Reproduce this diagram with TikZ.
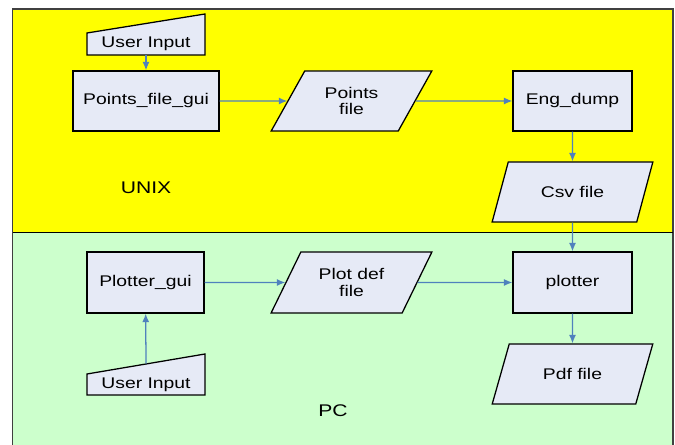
\documentclass[tikz,border=0pt]{standalone}
\usepackage{fontspec}
\setmainfont{Liberation Sans}[FakeStretch=1.25]
\usetikzlibrary{shapes.geometric,arrows.meta}

\definecolor{unixyellow}{RGB}{255,255,0}
\definecolor{pcgreen}{RGB}{204,255,204}
\definecolor{boxfill}{RGB}{230,234,246}
\definecolor{flowblue}{RGB}{79,129,189}

\begin{document}
\begin{tikzpicture}[
    font=\fontsize{11}{11.5}\selectfont,
    proc/.style={draw, line width=0.9pt, fill=boxfill, minimum height=1.5cm, inner sep=0pt},
    data/.style={trapezium, trapezium left angle=55, trapezium right angle=125,
        trapezium stretches=true, draw, line width=0.9pt, fill=boxfill,
        minimum width=4.025cm, minimum height=1.5cm, inner sep=0pt, align=center},
    manual/.style={inner sep=0pt, minimum width=2.95cm},
    flow/.style={-{Latex[length=6pt,width=5pt]}, draw=flowblue, line width=0.9pt}
]

    % Fix the page size
    \useasboundingbox (0,0) rectangle (16.875,-11.125);

    % Draw the two pools
    \fill[unixyellow] (0.3125,-0.225) rectangle (16.825,-5.8125);
    \fill[pcgreen] (0.3125,-5.8125) rectangle (16.825,-11.125);
    \draw[line width=0.9pt, black!75] (0.3125,-11.125) -- (0.3125,-0.225) -- (16.825,-0.225) -- (16.825,-11.125);
    \draw[line width=0.9pt] (0.3125,-5.8125) -- (16.825,-5.8125);

    % Pool labels
    \node[font=\fontsize{12}{14}\selectfont] (unix) at (3.65,-4.7) {UNIX};
    \node[font=\fontsize{12}{14}\selectfont] (pc) at (8.325,-10.275) {PC};

    % Draw the manual input shapes
    \filldraw[line width=0.9pt, fill=boxfill] (2.175,-1.375) -- (5.125,-1.375) -- (5.125,-0.35) -- (2.175,-0.825) -- cycle;
    \filldraw[line width=0.9pt, fill=boxfill] (2.175,-9.875) -- (5.125,-9.875) -- (5.125,-8.85) -- (2.175,-9.35) -- cycle;
    \node[manual, minimum height=0.55cm] (inA) at (3.65,-1.1) {User Input};
    \node[manual, text height=0.613cm, text depth=0.162cm] (inB) at (3.65,-9.4875) {User Input};

    % UNIX side
    \node[proc, minimum width=3.65cm] (pfgui) at (3.65,-2.525) {Points\_file\_gui};
    \node[data] (ptsfile) at (8.7875,-2.525) {Points\\file};
    \node[proc, minimum width=2.975cm] (engdump) at (14.3125,-2.525) {Eng\_dump};
    \node[data] (csvfile) at (14.3125,-4.8) {Csv file};

    % PC side
    \node[proc, minimum width=2.925cm, minimum height=1.525cm] (plotgui) at (3.6375,-7.0625) {Plotter\_gui};
    \node[data, minimum height=1.525cm] (plotdef) at (8.7875,-7.0625) {Plot def\\file};
    \node[proc, minimum width=2.975cm, minimum height=1.525cm] (plotter) at (14.3125,-7.0625) {plotter};
    \node[data] (pdffile) at (14.3125,-9.35) {Pdf file};

    % Draw the flows
    \draw[flow] (inA) -- (pfgui);
    \draw[flow] (pfgui) -- (ptsfile);
    \draw[flow] (ptsfile) -- (engdump);
    \draw[flow] (engdump) -- (csvfile);
    \draw[flow] (csvfile) -- (plotter);
    \draw[flow] (inB.north) -- (plotgui);
    \draw[flow] (plotgui) -- (plotdef);
    \draw[flow] (plotdef) -- (plotter);
    \draw[flow] (plotter) -- (pdffile);

\end{tikzpicture}
\end{document}
